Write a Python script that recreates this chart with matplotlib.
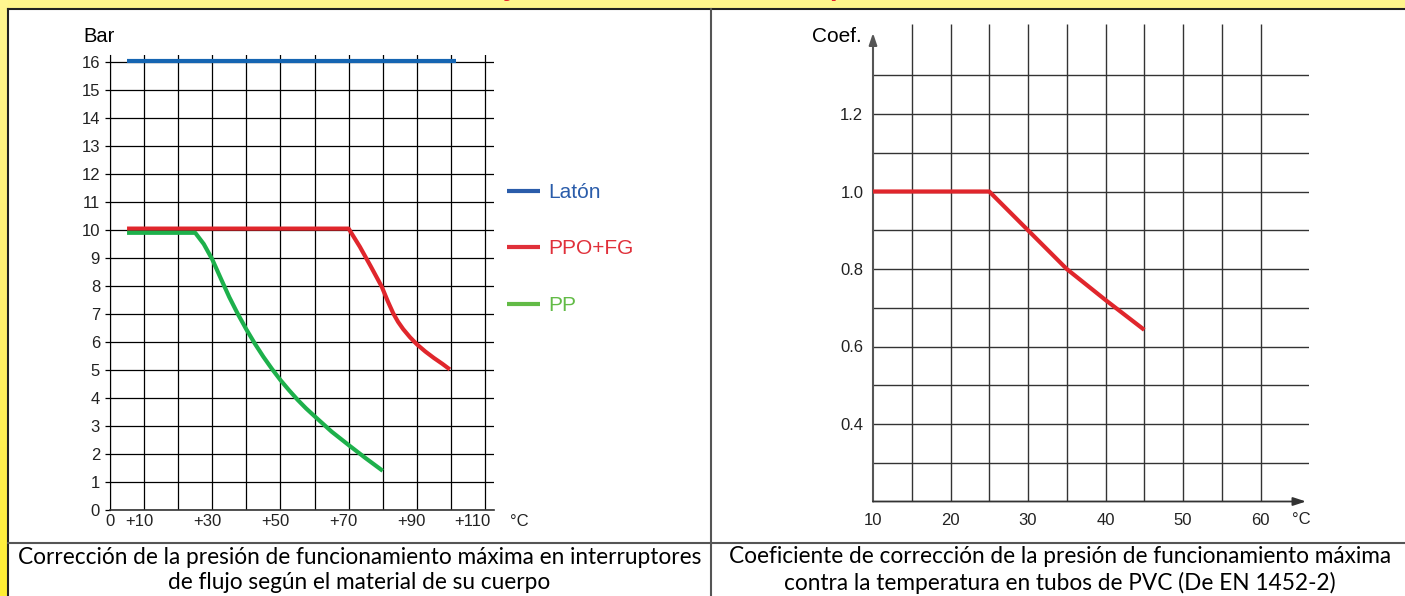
import numpy as np
import matplotlib
matplotlib.use('Agg')
import matplotlib.pyplot as plt
from matplotlib.lines import Line2D
from matplotlib.patches import Rectangle
from matplotlib.colors import LinearSegmentedColormap
from matplotlib.transforms import ScaledTranslation

# presión máxima (Bar) contra temperatura (°C) por material del cuerpo
laton_t = [5, 101.5]
laton_p = [16.05, 16.05]
ppo_t = [5, 70, 73.3, 76.5, 79.7, 81.5, 83.1, 84.5, 86, 88, 90, 92.5, 95, 97.5, 99.7]
ppo_p = [10.05, 10.05, 9.4, 8.7, 7.98, 7.45, 7.02, 6.72, 6.46, 6.17, 5.92, 5.66, 5.43, 5.22, 5.02]
pp_t = [5, 25, 27.5, 30, 32.5, 35, 37.5, 40, 42.5, 45, 47.5, 50, 52.5, 55, 57.5, 60, 65, 70, 75, 80]
pp_p = [9.9, 9.9, 9.5, 8.95, 8.27, 7.6, 7.0, 6.45, 5.94, 5.47, 5.04, 4.64, 4.28, 3.94, 3.63,
        3.35, 2.8, 2.32, 1.85, 1.4]
names = ['Latón', 'PPO+FG', 'PP']

# coeficiente de corrección en tubos de PVC
pvc_t = [10, 25, 30, 35, 40, 45]
pvc_c = [1.0, 1.0, 0.9, 0.8, 0.72, 0.643]

left_xticks = list(range(0, 120, 10))
left_xlabels = ['0', '+10', '', '+30', '', '+50', '', '+70', '', '+90', '', '+110']
left_yticks = list(range(0, 17))
right_xticks = [10, 20, 30, 40, 50, 60]
right_xgrid = [15, 20, 25, 30, 35, 40, 45, 50, 55, 60]
right_yticks = [0.4, 0.6, 0.8, 1.0, 1.2]
right_ygrid = [0.3, 0.4, 0.5, 0.6, 0.7, 0.8, 0.9, 1.0, 1.1, 1.2, 1.3]

cap_left = ("Corrección de la presión de funcionamiento máxima en interruptores\n"
            "de flujo según el material de su cuerpo")
cap_right = ("Coeficiente de corrección de la presión de funcionamiento máxima\n"
             "contra la temperatura en tubos de PVC (De EN 1452-2)")

plot_cols = ['#1565B2', '#E0262C', '#1DB04B']
leg_cols = ['#2A5CAA', '#E0303A', '#62BB46']

W, H = 1405, 596
plt.rcParams['font.family'] = ['Liberation Sans', 'DejaVu Sans']


def fx(px):
    return px / W


def fy(py):
    return 1 - py / H


fig = plt.figure(figsize=(W / 100, H / 100), dpi=100)
fig.patch.set_facecolor('#FFF58C')

# franja amarilla izquierda con degradado
bg = fig.add_axes([0, 0, fx(8), 1], zorder=-10)
cmap = LinearSegmentedColormap.from_list('y', ['#FFF690', '#FFF070', '#FFEE33'])
bg.imshow(np.linspace(0, 1, 100).reshape(-1, 1), cmap=cmap, aspect='auto')
bg.set_axis_off()

fig.add_artist(Rectangle((fx(8), 0), 1 - fx(8), fy(9), transform=fig.transFigure,
                         facecolor='white', edgecolor='none', zorder=-5))
for xs, ys, c in [([8, W], [9, 9], '#222222'), ([8, 8], [9, H], '#222222'),
                  ([711, 711], [9, H], '#555555'), ([8, W], [543, 543], '#555555')]:
    fig.add_artist(Line2D([fx(x) for x in xs], [fy(y) for y in ys],
                          transform=fig.transFigure, color=c, lw=1.5))

# titulo recortado arriba (solo asoman los trazos inferiores)
fig.text(fx(511), fy(-5), 'y', color='#E8202A', fontsize=20, fontweight='bold',
         ha='center', va='baseline')
fig.text(fx(829), fy(-5), 'p', color='#E8202A', fontsize=20, fontweight='bold',
         ha='left', va='baseline')

# ---- grafico izquierdo
axL = fig.add_axes([fx(110), fy(510), (494 - 110) / W, (510 - 55) / H])
axL.set_xlim(0, 384 / 3.409)
axL.set_ylim(0, 455 / 28.0)
axL.patch.set_alpha(0)
for s in ['top', 'right']:
    axL.spines[s].set_visible(False)
axL.spines['left'].set_color('black')
axL.spines['bottom'].set_color('#333333')
axL.spines['bottom'].set_linewidth(1.2)
axL.set_xticks(left_xticks)
axL.set_xticklabels(left_xlabels)
axL.set_yticks(left_yticks)
axL.tick_params(axis='x', length=0, pad=3, labelsize=12, labelcolor='#222222')
axL.tick_params(axis='y', length=3.6, width=0.9, pad=3.6, labelsize=12, labelcolor='#222222')
for lab in axL.get_xticklabels():
    shift = {'0': 0, '+110': -13}.get(lab.get_text(), -5)
    lab.set_transform(lab.get_transform() + ScaledTranslation(shift / 100, 0, fig.dpi_scale_trans))
axL.grid(True, color='black', lw=0.9)
axL.set_axisbelow(True)
axL.plot(laton_t, laton_p, color=plot_cols[0], lw=3, solid_capstyle='butt', zorder=3)
axL.plot(ppo_t, ppo_p, color=plot_cols[1], lw=3, solid_capstyle='butt', zorder=3)
axL.plot(pp_t, pp_p, color=plot_cols[2], lw=3, solid_capstyle='butt', zorder=3)

fig.text(fx(83), fy(36), 'Bar', fontsize=14.5, ha='left', va='center')
fig.text(fx(510), fy(521), '°C', fontsize=12, ha='left', va='center', color='#222222')

handles = [Line2D([], [], color=c, lw=3, solid_capstyle='butt') for c in leg_cols]
leg = fig.legend(handles, names, loc='upper left', bbox_to_anchor=(fx(507), fy(183)),
                 frameon=False, fontsize=15, handlelength=1.59, handletextpad=0.38,
                 labelspacing=1.8, borderpad=0, borderaxespad=0)
for t, c in zip(leg.get_texts(), leg_cols):
    t.set_color(c)

# ---- grafico derecho
px_unit = 7.75
axR = fig.add_axes([fx(873), fy(501.5), 436 / W, 477.5 / H])
x_top = 10 + 436 / px_unit
y_top = 0.2 + 477.5 / 387.5
axR.set_xlim(10, x_top)
axR.set_ylim(0.2, y_top)
axR.patch.set_alpha(0)
for s in axR.spines.values():
    s.set_visible(False)
axR.vlines(right_xgrid, 0.2, y_top, color='#333333', lw=1.0)
axR.hlines(right_ygrid, 10, x_top, color='#333333', lw=1.0)
axR.annotate('', xy=(10, 0.2 + (501.5 - 33) / 387.5), xytext=(10, 0.2),
             arrowprops=dict(arrowstyle='-|>,head_length=0.5,head_width=0.17',
                             color='#555555', lw=1.5, mutation_scale=14,
                             shrinkA=0, shrinkB=0))
axR.annotate('', xy=(10 + (1306 - 873) / px_unit, 0.2), xytext=(10, 0.2),
             arrowprops=dict(arrowstyle='-|>,head_length=0.55,head_width=0.18',
                             color='#333333', lw=1.3, mutation_scale=14,
                             shrinkA=0, shrinkB=0))
axR.set_xticks(right_xticks)
axR.set_xticklabels([str(v) for v in right_xticks])
axR.set_yticks(right_yticks)
axR.set_yticklabels(['%.1f' % v for v in right_yticks])
axR.tick_params(axis='x', length=0, pad=8.5, labelsize=12, labelcolor='#222222')
axR.tick_params(axis='y', length=0, pad=7.0, labelsize=12, labelcolor='#222222')
axR.plot(pvc_t, pvc_c, color=plot_cols[1], lw=3, solid_capstyle='butt', zorder=3)

fig.text(fx(812), fy(37), 'Coef.', fontsize=15, ha='left', va='center')
fig.text(fx(1292), fy(520), '°C', fontsize=12, ha='left', va='center', color='#222222')

# ---- pies de figura
tl = fig.text(fx(359.5), fy(570), cap_left, ha='center', va='center', fontsize=15,
              family=['Lato', 'DejaVu Sans'], linespacing=1.25)
tr = fig.text(fx(1060), fy(570), cap_right, ha='center', va='center', fontsize=15,
              family=['Lato', 'DejaVu Sans'], linespacing=1.25)
r = fig.canvas.get_renderer()
wl = tl.get_window_extent(r).width
size = 15 * 683 / wl
tl.set_fontsize(size)
tr.set_fontsize(size)

fig.savefig('out.png', dpi=100, facecolor=fig.get_facecolor())
